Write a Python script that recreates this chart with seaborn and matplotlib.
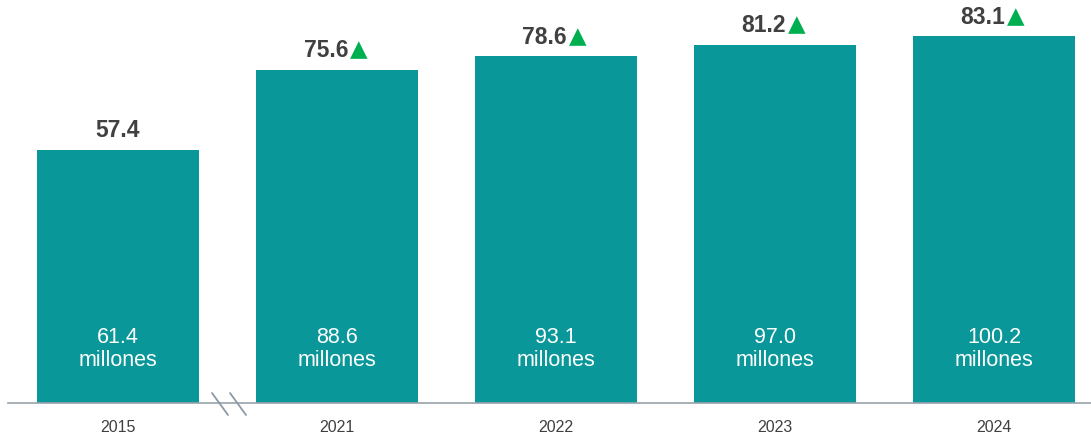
import matplotlib
matplotlib.use("Agg")
import matplotlib.pyplot as plt
import matplotlib.lines as mlines
import seaborn as sns
import pandas as pd

years = ["2015", "2021", "2022", "2023", "2024"]
top_values = [57.4, 75.6, 78.6, 81.2, 83.1]
inner_labels = ["61.4", "88.6", "93.1", "97.0", "100.2"]
show_arrow = [False, True, True, True, True]

sns.set_theme(style="white")
plt.rcParams['font.family'] = ['Liberation Sans', 'DejaVu Sans']

df = pd.DataFrame({"year": years, "value": top_values})

fig = plt.figure(figsize=(10.91, 4.36), dpi=100)
ax = fig.add_axes([8/1091, 33/436, 1083/1091, 397/436])

sns.barplot(data=df, x="year", y="value", ax=ax, color="#0A9799",
            saturation=1, width=0.74, edgecolor="none")

ax.set_xlim(-0.502, 4.443)
ax.set_ylim(0, 90)
ax.set_xlabel("")
ax.set_ylabel("")
ax.set_yticks([])
for s in ["top", "right", "left"]:
    ax.spines[s].set_visible(False)
ax.spines["bottom"].set_color("#9AA3AC")
ax.spines["bottom"].set_linewidth(1.2)
ax.tick_params(axis="x", length=0, pad=12.5, labelsize=11.5, labelcolor="#404040")

for i, (v, lab, arr) in enumerate(zip(top_values, inner_labels, show_arrow)):
    if arr:
        ax.annotate(f"{v:.1f}", xy=(i, v), xytext=(8, 9), textcoords="offset points",
                    ha="right", va="baseline", fontsize=16.5, fontweight="bold",
                    color="#404040")
        ax.annotate("▲", xy=(i, v), xytext=(9, 9.5), textcoords="offset points",
                    ha="left", va="baseline", fontsize=16.5, color="#00B050",
                    family="DejaVu Sans")
    else:
        ax.annotate(f"{v:.1f}", xy=(i, v), xytext=(0, 9), textcoords="offset points",
                    ha="center", va="baseline", fontsize=16.5, fontweight="bold",
                    color="#404040")
    ax.text(i, 12.3, f"{lab}\nmillones", ha="center", va="center",
            fontsize=15.5, color="white", linespacing=1.15)

# axis break marks
for x0 in (212, 230):
    fig.add_artist(mlines.Line2D([x0/1091, (x0+16)/1091], [1-393/436, 1-415/436],
                                 color="#8A9AA8", lw=1.3, transform=fig.transFigure))

fig.savefig("out.png", dpi=100, facecolor="white")
